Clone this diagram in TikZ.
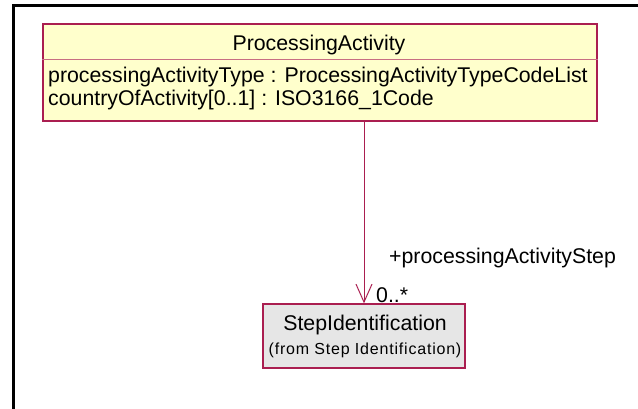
\documentclass[tikz,border=0pt]{standalone}
\usepackage{fontspec}
\setmainfont{Liberation Sans}
\usetikzlibrary{arrows.meta}
\definecolor{umlborder}{RGB}{170,30,80}
\definecolor{umlsep}{RGB}{200,110,130}
\definecolor{classfill}{RGB}{255,255,204}
\definecolor{stepfill}{RGB}{230,230,230}
\tikzset{
  classbox/.style={draw=umlborder, line width=1.3pt, fill=classfill, inner sep=0pt, minimum width=554pt, minimum height=97pt},
  stepbox/.style={draw=umlborder, line width=1.3pt, fill=stepfill, inner sep=0pt, minimum width=202pt, minimum height=64pt},
  txt/.style={inner sep=0pt, font=\fontsize{21.3}{24}\selectfont},
  smalltxt/.style={inner sep=0pt, font=\fontsize{16}{18}\selectfont\addfontfeature{LetterSpace=5}},
  assoc/.style={draw=umlborder, line width=1pt, -{Straight Barb[length=18pt,width=16pt,line width=1pt]}}
}
\begin{document}
\begin{tikzpicture}[x=1pt,y=-1pt]
\useasboundingbox (0,0) rectangle (638,409);
\draw[line width=3pt] (13,420) -- (13,5.5) -- (650,5.5);
\node[classbox] (pa) at (320,72.5) {};
\draw[umlsep, line width=1pt] (pa.west |- 0,59.5) coordinate (sepl) -- (sepl -| pa.east);
\node[txt, anchor=base] (pan) at (319,51) {ProcessingActivity};
\node[txt, anchor=base west] (a1) at (48,83) {processingActivityType : ProcessingActivityTypeCodeList};
\node[txt, anchor=base west] (a2) at (48,106) {countryOfActivity[0..1] : ISO3166\_1Code};
\node[stepbox] (si) at (364,336) {};
\node[txt, anchor=base] (sin) at (365,330) {StepIdentification};
\node[smalltxt, anchor=base] (sif) at (365,354) {(from Step Identification)};
\draw[assoc] (si.north |- pa.south) -- (si.north);
\node[txt, anchor=base west] (role) at (389,263) {+processingActivityStep};
\node[txt, anchor=base west] (mult) at (376,302) {0..*};
\end{tikzpicture}
\end{document}
